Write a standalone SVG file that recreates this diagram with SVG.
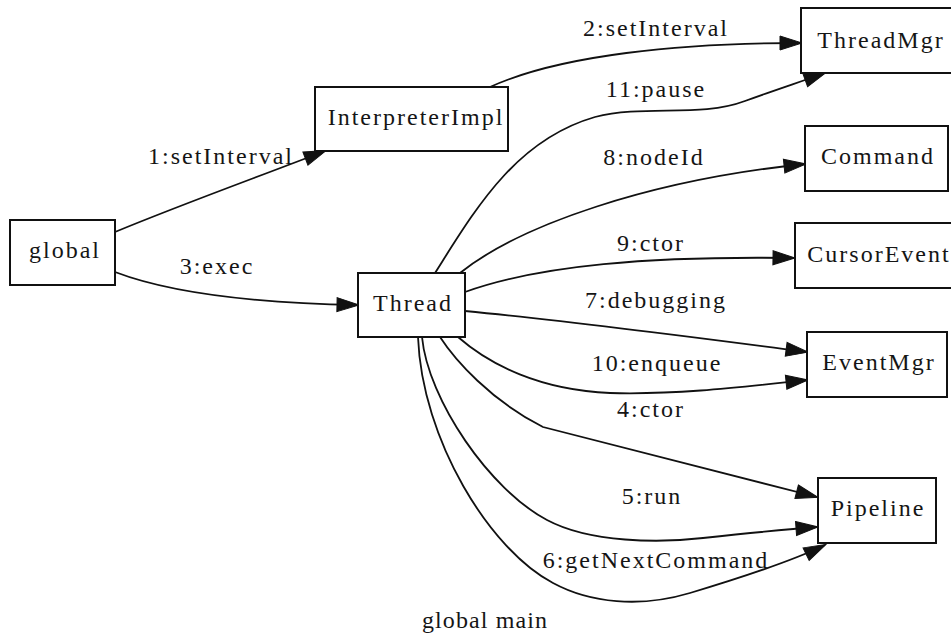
<svg xmlns="http://www.w3.org/2000/svg" width="951" height="637" viewBox="0 0 951 637">
  <style>
    .box { fill: #ffffff; stroke: #111111; stroke-width: 2; }
    .lbl { font-family: "Liberation Serif", "Times New Roman", Times, serif; font-size: 24px; fill: #151515; text-anchor: middle; letter-spacing: 2px; }
    .caption { letter-spacing: 1.1px; }
    .edge { fill: none; stroke: #111111; stroke-width: 1.8; marker-end: url(#arrow); }
  </style>
  <defs>
    <marker id="arrow" markerUnits="userSpaceOnUse" markerWidth="22" markerHeight="14" refX="21" refY="7" orient="auto" overflow="visible">
      <path d="M0,0 L22,7 L0,14 Z" fill="#111111" stroke="#111111" stroke-width="1"/>
    </marker>
  </defs>
  <rect width="951" height="637" fill="#ffffff"/>

  <!-- connectors -->
  <g id="edges">
    <path class="edge" d="M115,232 C180,205 255,178 325,151"/>
    <path class="edge" d="M490,87 C560,55 680,43 801,43"/>
    <path class="edge" d="M115,272 C170,293 250,303 358,305"/>
    <path class="edge" d="M435,273 C475,210 515,140 595,117 C645,104 700,118 745,101 C775,90 800,82 825,73"/>
    <path class="edge" d="M460,273 C520,225 650,180 805,164"/>
    <path class="edge" d="M465,292 C540,265 650,256 794,258"/>
    <path class="edge" d="M465,311 C580,322 700,338 807,352"/>
    <path class="edge" d="M458,337 C490,365 540,390 610,393 C680,395 750,386 807,380"/>
    <path class="edge" d="M440,337 C455,360 490,400 543,427 L817,497"/>
    <path class="edge" d="M422,337 C428,400 490,490 547,520 C590,543 660,543 703,538 C750,533 790,529 817,527"/>
    <path class="edge" d="M418,337 C422,440 490,550 553,583 C590,603 640,608 690,593 C740,578 790,562 825,545"/>
  </g>

  <!-- edge labels -->
  <g id="edge-labels">
    <text class="lbl" x="221" y="164">1:setInterval</text>
    <text class="lbl" x="656" y="36">2:setInterval</text>
    <text class="lbl" x="217" y="274">3:exec</text>
    <text class="lbl" x="651" y="417">4:ctor</text>
    <text class="lbl" x="652" y="504">5:run</text>
    <text class="lbl" x="656" y="568">6:getNextCommand</text>
    <text class="lbl" x="656" y="308">7:debugging</text>
    <text class="lbl" x="654" y="165">8:nodeId</text>
    <text class="lbl" x="651" y="251">9:ctor</text>
    <text class="lbl" x="657" y="371">10:enqueue</text>
    <text class="lbl" x="656" y="97">11:pause</text>
  </g>

  <!-- nodes -->
  <g id="global">
    <rect class="box" x="10" y="220" width="105" height="65"/>
    <text class="lbl" x="65" y="258">global</text>
  </g>
  <g id="InterpreterImpl">
    <rect class="box" x="315" y="87" width="193" height="64"/>
    <text class="lbl" x="416" y="125">InterpreterImpl</text>
  </g>
  <g id="Thread">
    <rect class="box" x="358" y="273" width="107" height="64"/>
    <text class="lbl" x="413" y="311">Thread</text>
  </g>
  <g id="ThreadMgr">
    <rect class="box" x="801" y="8" width="158" height="65"/>
    <text class="lbl" x="881" y="48">ThreadMgr</text>
  </g>
  <g id="Command">
    <rect class="box" x="805" y="126" width="143" height="65"/>
    <text class="lbl" x="878" y="164">Command</text>
  </g>
  <g id="CursorEvent">
    <rect class="box" x="795" y="223" width="166" height="65"/>
    <text class="lbl" x="879" y="262">CursorEvent</text>
  </g>
  <g id="EventMgr">
    <rect class="box" x="807" y="332" width="140" height="65"/>
    <text class="lbl" x="879" y="370">EventMgr</text>
  </g>
  <g id="Pipeline">
    <rect class="box" x="818" y="478" width="118" height="65"/>
    <text class="lbl" x="878" y="516">Pipeline</text>
  </g>

  <!-- graph caption -->
  <text class="lbl caption" x="485" y="628">global main</text>
</svg>
